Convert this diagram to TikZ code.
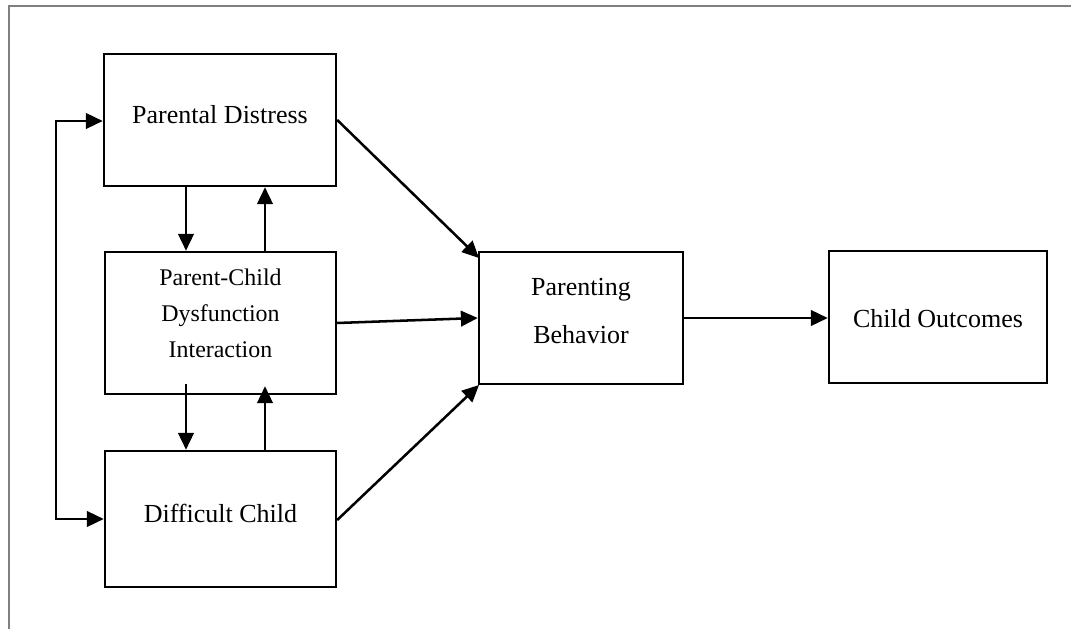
\documentclass[tikz,border=0pt]{standalone}
\usepackage{fontspec}
\setmainfont{Liberation Serif}
\usetikzlibrary{arrows.meta,calc}
\begin{document}
\begin{tikzpicture}[x=0.025cm,y=-0.025cm,
  box/.style={draw,line width=1.7pt,minimum width=#1,inner sep=0pt},
  lbl/.style={font=\fontsize{18.5}{22}\selectfont,inner sep=0pt},
  small/.style={font=\fontsize{17}{25.5}\selectfont,align=center,inner sep=0pt},
  arr/.style={line width=1.8pt,-{Triangle[length=12pt,width=11pt]}},
  darr/.style={line width=1.8pt,{Triangle[length=12pt,width=11pt]}-{Triangle[length=12pt,width=11pt]}},
  frame/.style={draw=gray,line width=1.1pt}]
\useasboundingbox (0,0) rectangle (1071,629);
\draw[frame] (9,629) -- (9,6) -- (1071,6);
% boxes
\node[box=5.8cm,minimum height=3.3cm] (PD) at (220,120) {};
\node[lbl] (PDt) at (220,115) {Parental Distress};
\node[box=5.775cm,minimum height=3.55cm] (PC) at (220.5,323) {};
\node[small] (PCt) at (220.5,313) {Parent-Child\\Dysfunction\\Interaction};
\node[box=5.775cm,minimum height=3.4cm] (DC) at (220.5,519) {};
\node[lbl] (DCt) at (220.5,513) {Difficult Child};
\node[box=5.1cm,minimum height=3.3cm] (PB) at (581,318) {};
\node[lbl,align=center,font=\fontsize{18.5}{33.5}\selectfont] (PBt) at (581,311) {Parenting\\Behavior};
\node[box=5.45cm,minimum height=3.3cm] (CO) at (938,317) {};
\node[lbl] (COt) at (938,319) {Child Outcomes};
% left loop
\coordinate (L1) at (56,121);
\coordinate (L2) at (56,519);
\draw[darr] (PD.west |- L1) -- (L1) -- (L2) -- (DC.west |- L2);
% vertical arrows
\coordinate (xa) at (186,0);
\coordinate (xb) at (265,0);
\draw[arr] (PD.south -| xa) -- (PC.north -| xa);
\draw[arr] (PC.north -| xb) -- (PD.south -| xb);
\draw[arr] ($(PC.south -| xa)+(0,-11)$) -- (DC.north -| xa);
\draw[arr] (DC.north -| xb) -- ($(PC.south -| xb)+(0,-9)$);
% to parenting behavior
\coordinate (t1) at (479,258);
\coordinate (t3) at (479,385);
\draw[arr] (PD.east |- 0,120) -- (t1);
\draw[arr] (PC.east |- 0,323) -- (PB.west |- 0,318);
\draw[arr] (DC.east |- 0,520) -- (t3);
\draw[arr] (PB.east |- 0,318) -- (CO.west |- 0,318);
\end{tikzpicture}
\end{document}
